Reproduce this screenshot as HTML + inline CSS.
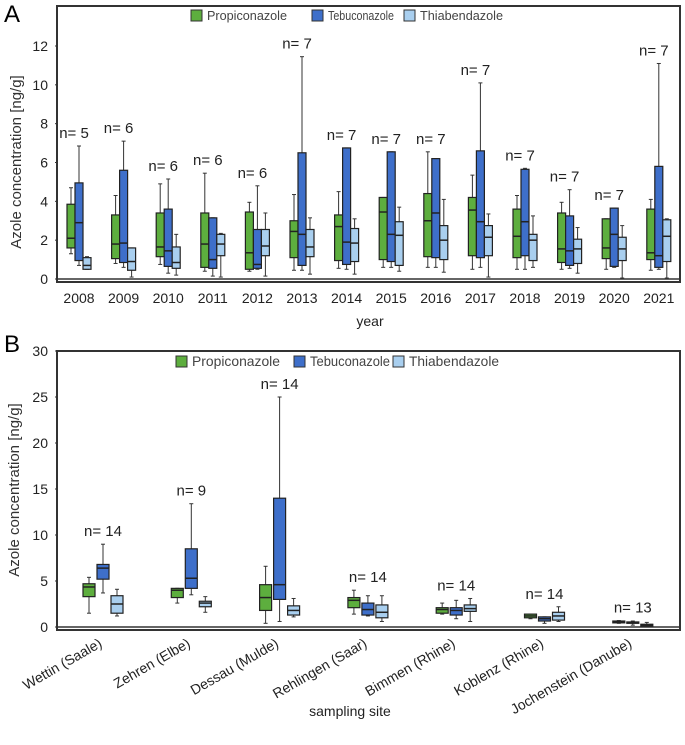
<!DOCTYPE html>
<html><head><meta charset="utf-8"><style>
body{margin:0;background:#fff;font-family:"Liberation Sans",sans-serif}
svg text{font-family:"Liberation Sans",sans-serif}
</style></head><body>
<svg id="c" width="685" height="740" xmlns="http://www.w3.org/2000/svg"></svg>
<script>
// Panel A data: [min,q1,median,q3,max]
const years=["2008","2009","2010","2011","2012","2013","2014","2015","2016","2017","2018","2019","2020","2021"];
const nA=[5,6,6,6,6,7,7,7,7,7,7,7,7,7];
const propA=[[1.3,1.6,2.1,3.85,4.7],[0.8,1.05,1.8,3.3,4.3],[0.75,1.15,1.65,3.4,4.9],[0.4,0.6,1.8,3.4,5.45],[0.4,0.5,1.35,3.45,3.95],[0.45,1.1,2.45,3.0,4.35],[0.55,0.95,2.7,3.3,4.5],[0.6,1.0,3.45,4.2,4.2],[0.6,1.15,3.0,4.4,6.55],[0.5,1.2,3.55,4.2,5.35],[0.5,1.1,2.2,3.6,4.3],[0.5,0.85,1.55,3.4,3.95],[0.5,1.05,1.6,3.1,3.1],[0.45,1.0,1.35,3.6,4.1]];
const tebA=[[0.7,0.95,2.9,4.95,6.85],[0.6,0.85,1.85,5.6,7.1],[0.3,0.65,1.45,3.6,5.15],[0.15,0.55,1.0,3.15,3.15],[0.5,0.55,0.75,2.55,4.8],[0.45,0.7,2.3,6.5,11.45],[0.5,0.75,1.9,6.75,6.75],[0.6,0.9,2.3,6.55,6.55],[0.6,1.1,3.4,6.2,6.2],[0.6,1.1,2.95,6.6,10.1],[0.5,1.2,2.95,5.65,5.7],[0.55,0.7,1.45,3.25,4.6],[0.6,0.65,2.3,3.65,3.65],[0.5,0.6,1.2,5.8,11.1]];
const thiaA=[[0.5,0.5,0.7,1.1,1.15],[0.1,0.45,0.9,1.6,1.6],[0.2,0.55,0.85,1.65,2.3],[0.1,1.2,1.8,2.3,2.35],[0.15,1.2,1.7,2.55,3.4],[0.25,1.15,1.65,2.55,3.15],[0.25,0.9,1.85,2.6,3.1],[0.4,0.7,2.25,2.95,3.7],[0.35,1.0,2.0,2.75,4.1],[0.1,1.2,2.15,2.75,3.35],[0.6,0.95,2.0,2.3,3.25],[0.3,0.8,1.55,2.05,2.65],[0.05,0.95,1.55,2.15,2.75],[0.05,0.9,2.2,3.05,3.1]];
const ticksA=[0,2,4,6,8,10,12];
// Panel B data
const sites=["Wettin (Saale)","Zehren (Elbe)","Dessau (Mulde)","Rehlingen (Saar)","Bimmen (Rhine)","Koblenz (Rhine)","Jochenstein (Danube)"];
const nB=[14,9,14,14,14,14,13];
const propB=[[1.5,3.3,4.35,4.7,5.4],[2.6,3.2,4.0,4.2,4.2],[0.4,1.8,3.2,4.6,6.6],[1.4,2.1,2.9,3.2,4.0],[1.4,1.5,1.9,2.1,2.6],[0.9,1.0,1.2,1.4,1.4],[0.4,0.45,0.55,0.65,0.7]];
const tebB=[[3.7,5.2,6.4,6.8,9.0],[3.5,4.2,5.3,8.5,13.4],[0.6,3.0,4.6,14.0,25],[1.2,1.3,1.9,2.6,3.4],[0.9,1.3,1.8,2.1,2.9],[0.4,0.65,0.9,1.1,1.1],[0.2,0.4,0.5,0.55,0.65]];
const thiaB=[[1.2,1.5,2.5,3.4,4.1],[1.6,2.2,2.6,2.8,3.3],[1.1,1.3,1.8,2.3,3.1],[0.6,1.0,1.6,2.4,3.4],[0.6,1.7,2.0,2.4,3.1],[0.6,0.75,1.2,1.6,2.2],[0.05,0.1,0.2,0.3,0.5]];
const ticksB=[0,5,10,15,20,25,30];
const legendNames=["Propiconazole","Tebuconazole","Thiabendazole"];

const colors=["#5dae3e","#3e6fca","#a9cfef"];
const svg=document.getElementById('c');
const NS="http://www.w3.org/2000/svg";
function el(tag,attrs,parent){const e=document.createElementNS(NS,tag);for(const k in attrs)e.setAttribute(k,attrs[k]);(parent||svg).appendChild(e);return e;}

function panel(cfg){
  const g=el('g',{});
  
  
  const y=v=>cfg.y0-(v/cfg.ymax)*(cfg.y0-cfg.ytop);
  const x=i=>cfg.x0+i*cfg.dx;
  const fr=el('rect',{x:57,y:cfg.frameTop,width:623,height:cfg.frameBot-cfg.frameTop,fill:'none',stroke:'#333','stroke-width':2},g);
  
  
  const ax=el('line',{x1:57,x2:680,y1:cfg.y0,y2:cfg.y0,stroke:'#333','stroke-width':1.5},g);
  
  
  const L=el('text',{x:4,y:cfg.letterY,'font-size':24},g);L.textContent=cfg.letter;
  
  
  cfg.ticks.forEach(t=>{
    const tx=el('text',{x:48,y:y(t)+5,'text-anchor':'end','font-size':14,fill:'#222'},g);tx.textContent=t;
    
    
    el('line',{x1:55,x2:58,y1:y(t),y2:y(t),stroke:'#333'},g);
  });
  const yt=el('text',{transform:`translate(${cfg.ytX},${cfg.ytY}) rotate(-90)`,'text-anchor':'middle','font-size':15,fill:'#333'},g);
  yt.textContent='Azole concentration [ng/g]';
  
  
  const xt=el('text',{x:cfg.xtX,y:cfg.xtY,'text-anchor':'middle','font-size':14,fill:'#222'},g);
  xt.textContent=cfg.xtitle;
  
  
  legendNames.forEach((nm,k)=>{
    const lx=cfg.legX[k];
    const r=el('rect',{x:lx,y:cfg.legY-6,width:11,height:11,fill:colors[k],stroke:'#333','stroke-width':1},g);
    
    
    const t=el('text',{x:lx+16,y:cfg.legY+4,'font-size':cfg.legFs,fill:'#444',textLength:cfg.legW[k],lengthAdjust:'spacingAndGlyphs'},g);t.textContent=nm;
    
    
  });
  cfg.cats.forEach((c,i)=>{
    const cx=x(i);
    if(cfg.rot){
      const t=el('text',{transform:`translate(${cx},${cfg.catY}) rotate(-30)`,'text-anchor':'end','font-size':14,fill:'#222'},g);t.textContent=c;
      
      
    } else {
      const t=el('text',{x:cx,y:cfg.catY,'text-anchor':'middle','font-size':14,fill:'#222'},g);t.textContent=c;
      
      
    }
    let top=cfg.y0;
    cfg.series.forEach((s,k)=>{
      const d=s[i];const bx=cx+(k-1)*cfg.step-cfg.bw/2;const mx=bx+cfg.bw/2;
      top=Math.min(top,y(d[4]));
      const w1=el('line',{x1:mx,x2:mx,y1:y(d[4]),y2:y(d[0]),stroke:'#333','stroke-width':1},g);
      
      
      el('line',{x1:mx-2,x2:mx+2,y1:y(d[4]),y2:y(d[4]),stroke:'#333'},g);
      el('line',{x1:mx-2,x2:mx+2,y1:y(d[0]),y2:y(d[0]),stroke:'#333'},g);
      const b=el('rect',{x:bx,y:y(d[3]),width:cfg.bw,height:Math.max(1,y(d[1])-y(d[3])),fill:colors[k],stroke:'#222','stroke-width':1.2},g);
      
      
      const m=el('line',{x1:bx,x2:bx+cfg.bw,y1:y(d[2]),y2:y(d[2]),stroke:'#222','stroke-width':1.5},g);
      
      
    });
    const nt=el('text',{x:cx+cfg.nOff,y:top-cfg.nGap,'text-anchor':'middle','font-size':cfg.nFs,fill:'#222'},g);
    nt.textContent='n= '+cfg.n[i];
    
    
  });
}
panel({name:'panel-a',letter:'A',letterY:22,frameTop:6,frameBot:282,y0:279,ytop:46,ymax:12,x0:79,dx:44.6,bw:8,step:8,
  ticks:ticksA,cats:years,series:[propA,tebA,thiaA],n:nA,catY:303,rot:false,ytX:21,ytY:162,xtitle:'year',xtX:370,xtY:326,
  legX:[191,312,404],legW:[80,66,83],legY:16,legFs:13,nOff:-5,nGap:8,nFs:15});
panel({name:'panel-b',letter:'B',letterY:352,frameTop:351,frameBot:630,y0:627,ytop:351,ymax:30,x0:103,dx:88.3,bw:12,step:14,
  ticks:ticksB,cats:sites,series:[propB,tebB,thiaB],n:nB,catY:646,rot:true,ytX:19,ytY:490,xtitle:'sampling site',xtX:350,xtY:716,
  legX:[176,294,393],legW:[88,80,90],legY:362,legFs:14,nOff:0,nGap:8,nFs:15});
</script>
</body></html>
